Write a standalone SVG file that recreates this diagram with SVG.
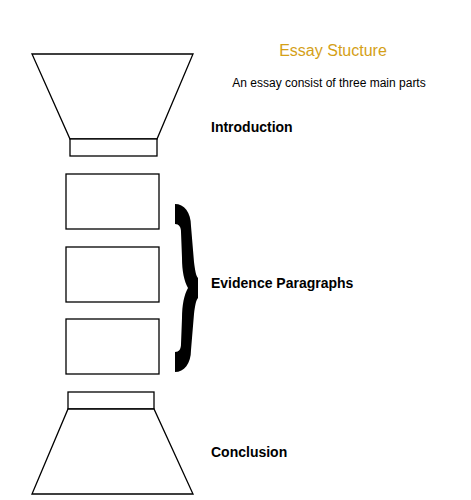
<svg xmlns="http://www.w3.org/2000/svg" width="471" height="500" viewBox="0 0 471 500">
<style>
.shape{fill:#fff;stroke:#000;stroke-width:1.3}
.lbl{font-family:"Liberation Sans",Arial,sans-serif;font-weight:bold;font-size:14px;fill:#000}
.title{font-family:"Liberation Sans",Arial,sans-serif;font-size:16px;fill:#d4a017}
.sub{font-family:"Liberation Sans",Arial,sans-serif;font-size:12px;fill:#000}
</style>
<rect width="471" height="500" fill="#fff"/>
<g id="title"><text class="title" x="333" y="56" text-anchor="middle">Essay Stucture</text></g>
<g id="subtitle"><text class="sub" x="329" y="87" text-anchor="middle">An essay consist of three main parts</text></g>
<g id="intro-funnel">
<polygon class="shape" points="32,54 193,54 157,139 70,139"/>
<rect class="shape" x="70" y="139" width="87" height="17"/>
</g>
<g id="intro-label"><text class="lbl" x="211" y="132">Introduction</text></g>
<g id="para1"><rect class="shape" x="66" y="174" width="93" height="55"/></g>
<g id="para2"><rect class="shape" x="66" y="247" width="93" height="55"/></g>
<g id="para3"><rect class="shape" x="66" y="319" width="93" height="55"/></g>
<g id="brace">
<path fill="#000" d="M175,204 C184,204 191,212 191,226 L194,262 C195,270 196,276 198,278 L198,298 C196,300 195,306 194,314 L191,350 C191,364 184,372 175,372 L175,352 C179,352 181,349 181,344 L182,318 C182,305 184,295 188,288 C184,281 182,271 182,258 L181,232 C181,227 179,224 175,224 Z"/>
</g>
<g id="evidence-label"><text class="lbl" x="211" y="288">Evidence Paragraphs</text></g>
<g id="conclusion-funnel">
<rect class="shape" x="68" y="392" width="86" height="17"/>
<polygon class="shape" points="68,409 154,409 193,494 32,494"/>
</g>
<g id="conclusion-label"><text class="lbl" x="211" y="457">Conclusion</text></g>
<g id="connectors"></g>
</svg>
